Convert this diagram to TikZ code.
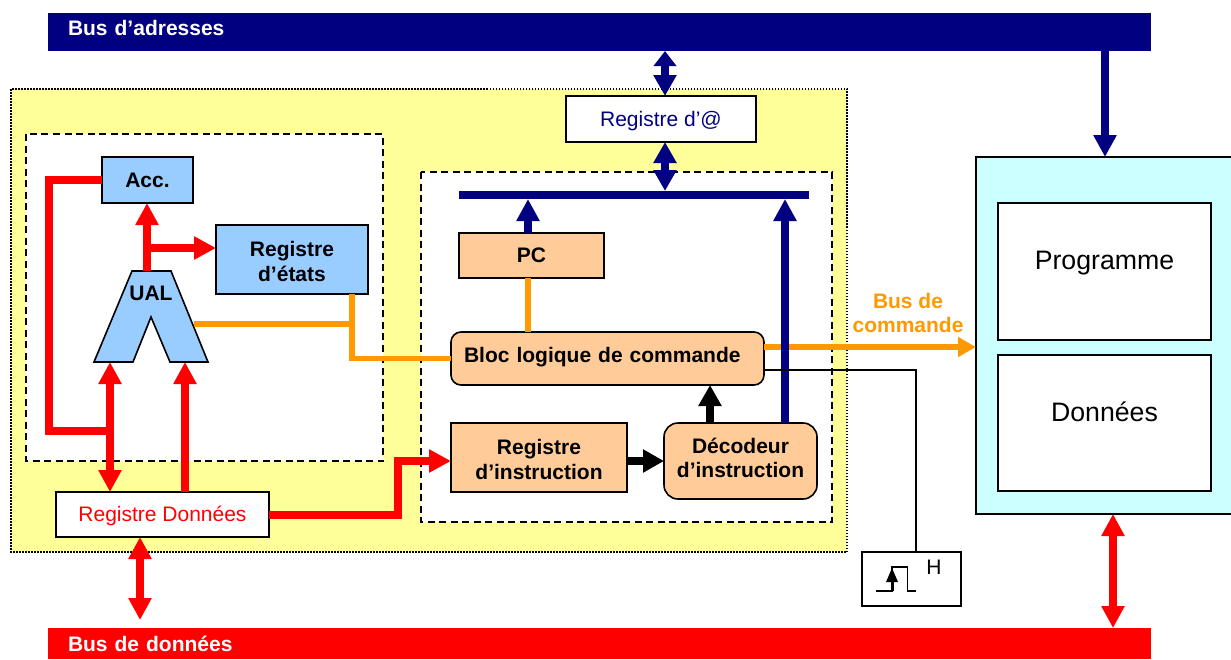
\documentclass[tikz,border=0pt]{standalone}
\usepackage{fontspec}
\setmainfont{Liberation Sans}
\usetikzlibrary{arrows.meta}
\definecolor{navy}{HTML}{000080}
\definecolor{busred}{HTML}{FF0000}
\definecolor{orangeb}{HTML}{FF9900}
\definecolor{yellowb}{HTML}{FFFF99}
\definecolor{blueb}{HTML}{99CCFF}
\definecolor{peach}{HTML}{FFCC99}
\definecolor{cyanb}{HTML}{CCFFFF}
\newcommand\pushdown[1]{\rule{0pt}{#1pt}}
\newcommand\pushup[1]{\rule[-#1pt]{0pt}{0pt}}
\tikzset{
  base/.style={draw=black,line width=1.6pt,outer sep=0pt,inner sep=0pt,align=center,text=black},
  boldfont/.style={font=\fontsize{21}{24.5}\selectfont\bfseries},
  regfont/.style={font=\fontsize{21}{25}\selectfont},
  bluebox/.style={base,boldfont,fill=blueb},
  peachbox/.style={base,boldfont,fill=peach},
  peachround/.style={peachbox,rounded corners=10pt},
  whitebox/.style={base,regfont,fill=white},
  membox/.style={base,fill=white,font=\fontsize{26.7}{30}\selectfont},
  busbar/.style={outer sep=0pt,inner ysep=0pt,inner xsep=20pt,minimum height=38pt,text width=1063pt,align=left,text=white,boldfont},
  dashbox/.style={draw=black,fill=white,line width=1.6pt,dash pattern=on 7pt off 4.5pt},
  redl/.style={draw=busred,line width=8pt},
  navyl/.style={draw=navy,line width=8pt},
  orl/.style={draw=orangeb,line width=5.5pt},
  redtip/.style={-{Triangle[length=22pt,width=22pt]},redl},
  redboth/.style={{Triangle[length=22pt,width=22pt]}-{Triangle[length=22pt,width=22pt]},redl},
  navytip/.style={-{Triangle[length=22pt,width=22pt]},navyl},
  navyboth/.style={{Triangle[length=#1,width=22pt]}-{Triangle[length=21pt,width=22pt]},navyl},
  blacktip/.style={-{Triangle[length=21pt,width=22pt]},draw=black,line width=8pt},
}
\begin{document}
\begin{tikzpicture}[x=1pt,y=-1pt]
\useasboundingbox (0,0) rectangle (1231,659);
\clip (0,0) rectangle (1231,659);
% containers
\draw[fill=yellowb,draw=black,line width=1.5pt,dash pattern=on 1.5pt off 1.5pt] (11,89) rectangle (847,552);
\draw[dashbox] (26,134) rectangle (383,461);
\draw[dashbox] (421,172) rectangle (832,522);
% buses
\node[busbar,fill=navy] (busadr) at (599.5,32) {Bus d’adresses\pushup{8}};
\node[busbar,fill=busred,minimum height=31pt] (busdon) at (599.5,643.5) {Bus de données};
% registers
\node[whitebox,text=navy,minimum width=190pt,minimum height=46pt] (regadr) at (661,119) {\pushdown{19}Registre d’@};
\node[whitebox,text=busred,minimum width=213pt,minimum height=45pt] (regdon) at (162.5,514.5) {\pushdown{19}Registre Données};
\node[bluebox,minimum width=91pt,minimum height=46pt] (acc) at (147.5,180) {Acc.};
\node[bluebox,minimum width=152pt,minimum height=69pt] (etats) at (292,259.5) {\pushdown{19}Registre\\d’états};
\node[peachbox,minimum width=145pt,minimum height=45pt] (pc) at (531.5,255.5) {PC};
\node[peachround,minimum width=313pt,minimum height=53pt,text width=287pt,align=left] (bloc) at (607.5,358.5) {Bloc logique de commande\pushup{8}};
\node[peachbox,minimum width=176pt,minimum height=69pt] (instr) at (539,457.5) {\pushdown{19}Registre\\d’instruction};
\node[peachround,rounded corners=14pt,minimum width=153pt,minimum height=76pt] (dec) at (740.5,461) {Décodeur\\d’instruction\pushup{6}\hspace{6pt}};
\node[fill=navy,outer sep=0pt,inner sep=0pt,minimum width=350pt,minimum height=8pt] (bar) at (634,195) {};
% memory
\node[draw=black,line width=1.6pt,fill=cyanb,outer sep=0pt,minimum width=259pt,minimum height=357pt] (mem) at (1105.5,335.5) {};
\node[membox,minimum width=213pt,minimum height=137pt] (prog) at (1104.5,271.5) {Programme\pushup{22}};
\node[membox,minimum width=213pt,minimum height=136pt] (don) at (1104.5,423) {Données\pushup{22}};
% UAL
\coordinate (ualtop) at (147,271);
\coordinate (uall) at (110,362);
\coordinate (ualr) at (185,362);
\coordinate (ualo) at (194,324);
\coordinate (jor) at (352,324);
\draw[fill=blueb,draw=black,line width=1.6pt,line join=miter] (132,271) -- (171,271) -- (208,362) -- (170,362) -- (151,317) -- (133,362) -- (94,362) -- cycle;
\node[boldfont,inner sep=0pt] (ual) at (151,293) {UAL};
% orange connectors
\draw[orl] (ualo) -- (jor);
\draw[orl] (etats.south -| jor) -- (jor) -- (jor |- bloc.west) -- (bloc.west);
\draw[orl] (528,0 |- pc.south) -- (528,0 |- bloc.north);
\draw[orl,-{Triangle[length=18pt,width=19pt]}] (bloc.east |- 0,347) -- (mem.west |- 0,347);
\node[text=orangeb,align=center,inner sep=0pt,font=\fontsize{21}{24}\selectfont\bfseries] (cmd) at (908,313) {Bus de\\commande};
% red connectors
\coordinate (jl) at (49,431);
\coordinate (jt) at (49,180);
\coordinate (jb) at (110,431);
\coordinate (ja) at (147,248);
\draw[redl] (acc.west) -- (jt) -- (jl) -- (jb);
\draw[redtip] (ualtop) -- (acc.south -| ualtop);
\draw[redtip] (ja) -- (etats.west |- ja);
\draw[redboth] (uall) -- (uall |- regdon.north);
\draw[redtip] (ualr |- regdon.north) -- (ualr);
\draw[redboth] (140,0 |- regdon.south) -- (140,620);
\draw[redtip] (regdon.east) -- (398,0 |- regdon.east) -- (398,461) -- (instr.west |- 0,461);
\draw[redboth] (1113,0 |- mem.south) -- (1113,0 |- busdon.north);
% navy connectors
\draw[navyboth=15pt] (665,0 |- busadr.south) -- (665,0 |- regadr.north);
\draw[navyboth=21pt] (665,0 |- regadr.south) -- (665,0 |- bar.north);
\draw[navytip] (528,0 |- pc.north) -- (528,0 |- bar.south);
\draw[navytip] (785,0 |- dec.north) -- (785,0 |- bar.south);
\draw[navytip] (1105,0 |- busadr.south) -- (1105,0 |- mem.north);
% black connectors
\draw[blacktip] (instr.east |- 0,461) -- (dec.west |- 0,461);
\draw[blacktip] (710,0 |- dec.north) -- (710,0 |- bloc.south);
% clock
\node[draw=black,line width=1.6pt,fill=white,outer sep=0pt,minimum width=99pt,minimum height=54pt] (clk) at (911.5,579) {};
\draw[draw=black,line width=1.5pt] (bloc.east |- 0,370) -- (916,370) -- (916,0 |- clk.north);
\draw[line width=1.3pt] (876,591) -- (892,591) -- (892,567) -- (907.5,567) -- (907.5,591) -- (916,591);
\fill (892,568) -- (898,582) -- (886,582) -- cycle;
\draw[line width=3pt] (892,582) -- (892,591);
\node[regfont,inner sep=0pt] (h) at (934,567) {H};
\end{tikzpicture}
\end{document}
